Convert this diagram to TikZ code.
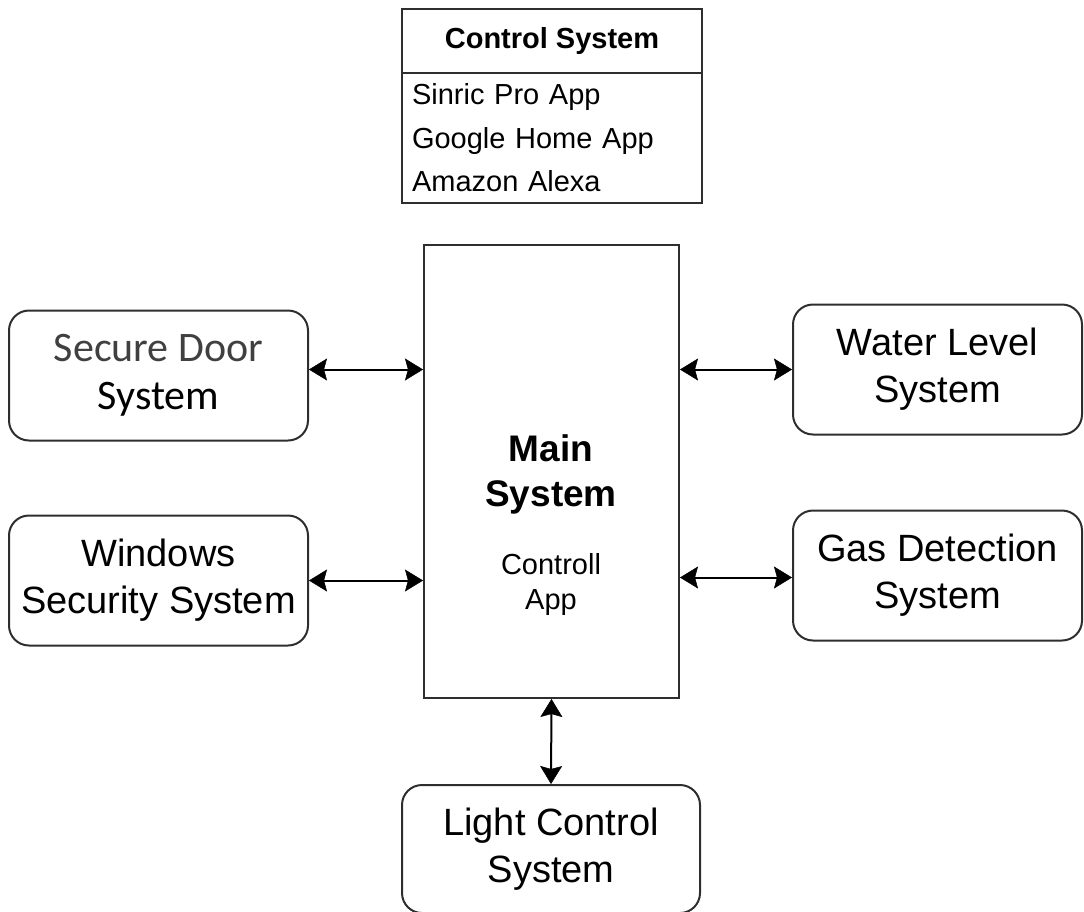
\documentclass[tikz,border=0pt]{standalone}
\usepackage{fontspec}
\setmainfont{Liberation Sans}
\newfontfamily\calibrifont{Carlito}
\usepackage{xcolor}
\definecolor{linegray}{HTML}{2E2E2E}
\definecolor{doorgray}{HTML}{404040}
\usepackage{tikz}
\usetikzlibrary{arrows.meta,positioning}
\tikzset{
  sysbox/.style={draw=linegray,line width=2pt,rounded corners=20pt,minimum width=299pt,minimum height=130pt,inner sep=4pt,align=center,font=\fontsize{38}{47}\selectfont},
  mainbox/.style={draw=linegray,line width=2pt,minimum width=255pt,minimum height=453pt},
  listbox/.style={draw=linegray,line width=2pt,minimum width=300pt,outer sep=0pt},
  biarrow/.style={draw=black,line width=2pt,{Stealth[length=18pt,width=22pt,inset=3pt,line width=0.5pt]}-{Stealth[length=18pt,width=22pt,inset=3pt,line width=0.5pt]}}
}

\begin{document}
\begin{tikzpicture}[x=1pt,y=-1pt]
  \useasboundingbox (0,0) rectangle (1084,911);

  % control system table
  \node[listbox,minimum height=64pt,font=\bfseries\fontsize{29}{35}\selectfont] (ctrlhead) at (552,41) {Control System};
  \node[listbox,minimum height=130pt,below=0pt of ctrlhead,align=left,text width=280pt,font=\fontsize{29}{43.5}\selectfont] (ctrllist) {Sinric Pro App\\Google Home App\\Amazon Alexa};

  % main system
  \node[mainbox] (main) at (551.5,471.5) {};
  \node[font=\bfseries\fontsize{37}{45}\selectfont,align=center] (maintitle) at (551,474) {Main\\System};
  \node[font=\fontsize{29}{35}\selectfont,align=center] (mainapp) at (551,584) {Controll\\App};

  % subsystems
  \node[sysbox,font=\calibrifont\fontsize{42}{48}\selectfont] (sdoor) at (158.5,375.5) {\textcolor{doorgray}{Secure Door}\\System};
  \node[sysbox] (windows) at (158.5,580.5) {Windows\\Security System};
  \node[sysbox,minimum width=289pt] (water) at (937.5,369.5) {Water Level\\System};
  \node[sysbox,minimum width=289pt] (gas) at (937.5,575.5) {Gas Detection\\System};
  \node[sysbox,minimum width=298pt,minimum height=128pt] (light) at (551,849) {Light Control\\System};

  % links
  \draw[biarrow] ([yshift=6pt]sdoor.east) -- ([yshift=6pt]sdoor.east -| main.west);
  \draw[biarrow] (windows.east) -- (windows.east -| main.west);
  \draw[biarrow] (main.east |- water.west) -- (water.west);
  \draw[biarrow] ([yshift=-2pt]main.east |- gas.west) -- ([yshift=-2pt]gas.west);
  \draw[biarrow] (main.south) -- (light.north);
\end{tikzpicture}
\end{document}
